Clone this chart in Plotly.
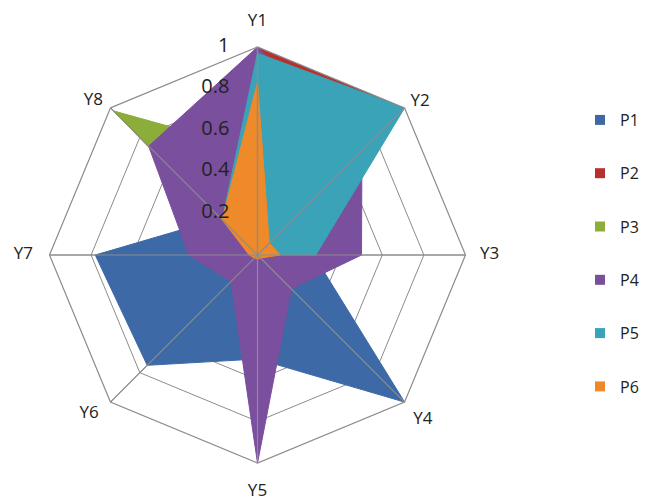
import plotly.graph_objects as go

# Axis categories and series values
categories = ["Y1", "Y2", "Y3", "Y4", "Y5", "Y6", "Y7", "Y8"]
series_names = ["P1", "P2", "P3", "P4", "P5", "P6"]
p1 = [0.15, 0.10, 0.27, 1.00, 0.50, 0.75, 0.78, 0.25]
p2 = [1.00, 1.00, 0.20, 0.15, 0.20, 0.10, 0.10, 0.30]
p3 = [0.50, 0.30, 0.20, 0.10, 0.20, 0.05, 0.02, 0.98]
p4 = [1.00, 0.71, 0.50, 0.23, 1.00, 0.18, 0.33, 0.74]
p5 = [0.97, 1.00, 0.28, 0.00, 0.00, 0.00, 0.00, 0.24]
p6 = [0.83, 0.08, 0.11, 0.02, 0.02, 0.02, 0.04, 0.24]
tick_vals = [0, 0.2, 0.4, 0.6, 0.8, 1]
tick_text = ["0", "0.2", "0.4", "0.6", "0.8", "1"]

colors = ["#3d69a6", "#b8302e", "#8cad3a", "#7a4f9e", "#3aa3b8", "#ee8a2a"]
all_values = [p1, p2, p3, p4, p5, p6]
grid_color = "#8c8c8c"
text_color = "#222222"

# Category label placement around the outer ring (Excel-like)
label_r = [1.08, 1.04, 1.07, 1.06, 1.10, 1.08, 1.08, 1.05]
label_pos = ["top center", "middle right", "middle right", "bottom right",
             "bottom center", "middle left", "middle left", "middle left"]
# invisible trailing characters keep value labels clear of the Y1 spoke
label_gap = "<span style='color:rgba(0,0,0,0)'>00.</span>"

fig = go.Figure()
for i, (name, vals) in enumerate(zip(series_names, all_values)):
    fig.add_trace(go.Scatterpolar(
        r=vals + vals[:1],
        theta=categories + categories[:1],
        name=name,
        mode="lines",
        fill="toself",
        fillcolor=colors[i],
        line=dict(color=colors[i], width=1),
        showlegend=False,
    ))

# Spokes drawn over the filled areas
for cat in categories:
    fig.add_trace(go.Scatterpolar(
        r=[0, 1], theta=[cat, cat], mode="lines",
        line=dict(color=grid_color, width=1.2),
        showlegend=False, hoverinfo="skip",
    ))

# Category labels (on an overlay polar with the same scale and a wider range)
fig.add_trace(go.Scatterpolar(
    r=label_r, theta=categories, text=categories, mode="text",
    textposition=label_pos, subplot="polar2", cliponaxis=False,
    textfont=dict(size=17, color=text_color),
    showlegend=False, hoverinfo="skip",
))

# Radial value labels along the Y1 spoke (zero nudged so it is not dropped)
fig.add_trace(go.Scatterpolar(
    r=[max(v, 1e-6) for v in tick_vals], theta=["Y1"] * len(tick_vals),
    text=[t + label_gap for t in tick_text], mode="text",
    textposition="middle left", subplot="polar2", cliponaxis=False,
    textfont=dict(size=20, color=text_color),
    showlegend=False, hoverinfo="skip",
))

# Square legend keys
for i, name in enumerate(series_names):
    fig.add_trace(go.Scatterpolar(
        r=[None], theta=[None], name=name, legendgroup=name,
        mode="markers",
        marker=dict(symbol="square", size=10, color=colors[i]),
    ))

W, H = 656, 504
cx, cy, R = 257.5, 255, 208
k = 1.12    # overlay range top
e = 0.004   # overlay range starts just below zero
R2 = R * (k + e) / (1 + e)


def dom(rad):
    return dict(x=[(cx - rad) / W, (cx + rad) / W],
                y=[(H - cy - rad) / H, (H - cy + rad) / H])


fig.update_layout(
    width=W, height=H,
    margin=dict(l=0, r=0, t=0, b=0),
    paper_bgcolor="white",
    font=dict(family="Open Sans, DejaVu Sans, sans-serif", color=text_color),
    polar=dict(
        domain=dom(R),
        bgcolor="white",
        gridshape="linear",
        radialaxis=dict(
            range=[0, 1], tickvals=tick_vals,
            angle=90, showticklabels=False,
            showline=True, linecolor=grid_color, linewidth=1.2,
            gridcolor=grid_color, gridwidth=1.2, ticks="",
        ),
        angularaxis=dict(
            rotation=90, direction="clockwise",
            showline=True, linecolor=grid_color, linewidth=1.2,
            gridcolor=grid_color, gridwidth=1.2,
            ticks="", showticklabels=False,
        ),
    ),
    polar2=dict(
        domain=dom(R2),
        bgcolor="rgba(0,0,0,0)",
        gridshape="linear",
        radialaxis=dict(range=[-e, k], visible=False),
        angularaxis=dict(
            rotation=90, direction="clockwise",
            categoryarray=categories, categoryorder="array",
            visible=False,
        ),
    ),
    legend=dict(
        x=580 / W, xanchor="left", y=1 - 103 / H, yanchor="top",
        font=dict(size=16, color=text_color),
        tracegroupgap=29.5,
        itemwidth=30,
        bgcolor="rgba(0,0,0,0)",
    ),
    showlegend=True,
)

fig.write_html("out.html")
